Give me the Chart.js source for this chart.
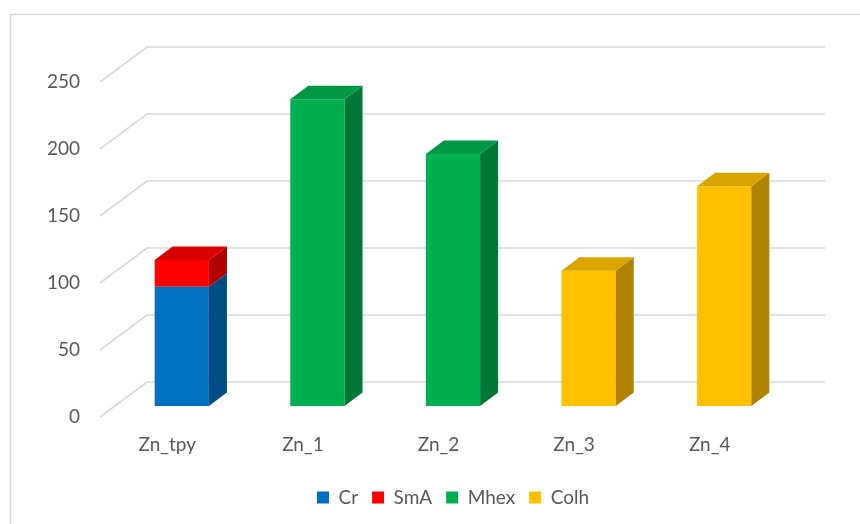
<!DOCTYPE html>
<html>
<head>
<meta charset="utf-8">
<script src="https://cdn.jsdelivr.net/npm/chart.js"></script>
<style>
  html, body { margin: 0; padding: 0; background: #fff; }
  #wrap { width: 860px; height: 524px; }
</style>
</head>
<body>
<div id="wrap"><canvas id="myChart" width="860" height="524"></canvas></div>
<script>
    // 데이터
    const categories = ['Zn_tpy', 'Zn_1', 'Zn_2', 'Zn_3', 'Zn_4'];
    const seriesNames = ['Cr', 'SmA', 'Mhex', 'Colh'];
    const crValues   = [89, null, null, null, null];
    const smaValues  = [20, null, null, null, null];
    const mhexValues = [null, 229, 188, null, null];
    const colhValues = [null, null, null, 101, 164];
    const yTicks = [0, 50, 100, 150, 200, 250];

    const colors = ['#0070C0', '#FF0000', '#00B050', '#FFC000'];

    // 색을 어둡게
    function shade(hex, f) {
        const n = parseInt(hex.slice(1), 16);
        const r = Math.round(((n >> 16) & 255) * f);
        const g = Math.round(((n >> 8) & 255) * f);
        const b = Math.round((n & 255) * f);
        return 'rgb(' + r + ',' + g + ',' + b + ')';
    }

    const DX = 18, DY = -13.5;      // 막대 깊이
    const GX = 47, GY = -35;        // 바닥/벽 깊이
    const GF = 11;                  // 앞면과 앞 모서리 차이

    const threeD = {
        id: 'threeD',
        beforeDraw(chart) {
            const ctx = chart.ctx;
            ctx.save();
            ctx.strokeStyle = '#d9d9d9';
            ctx.lineWidth = 1.5;
            ctx.strokeRect(10.5, 14.5, 1000, 1000);
            ctx.restore();
        },
        beforeDatasetsDraw(chart) {
            const ctx = chart.ctx;
            const area = chart.chartArea;
            const y = chart.scales.y;
            ctx.save();
            ctx.strokeStyle = '#d9d9d9';
            ctx.lineWidth = 1.6;
            yTicks.forEach(function (v) {
                const py = y.getPixelForValue(v);
                const fx = area.left - 14, fy = py + GF;
                ctx.beginPath();
                ctx.moveTo(fx, fy);
                ctx.lineTo(fx + GX, fy + GY);
                ctx.lineTo(area.right + 33, fy + GY);
                ctx.stroke();
            });
            ctx.restore();
        },
        afterDatasetsDraw(chart) {
            const ctx = chart.ctx;
            const n = chart.data.labels.length;
            for (let i = 0; i < n; i++) {
                // 가장 위 세그먼트 찾기
                let topIdx = -1;
                chart.data.datasets.forEach(function (ds, d) {
                    if (ds.data[i] != null && chart.isDatasetVisible(d)) topIdx = d;
                });
                chart.data.datasets.forEach(function (ds, d) {
                    if (ds.data[i] == null || !chart.isDatasetVisible(d)) return;
                    const bar = chart.getDatasetMeta(d).data[i];
                    const p = bar.getProps(['x', 'y', 'base', 'width'], true);
                    const l = p.x - p.width / 2, r = p.x + p.width / 2;
                    const top = Math.min(p.y, p.base), bot = Math.max(p.y, p.base);
                    const c = colors[d];
                    // 옆면
                    ctx.fillStyle = shade(c, 0.69);
                    ctx.beginPath();
                    ctx.moveTo(r, top);
                    ctx.lineTo(r + DX, top + DY);
                    ctx.lineTo(r + DX, bot + DY);
                    ctx.lineTo(r, bot);
                    ctx.closePath();
                    ctx.fill();
                    // 윗면
                    if (d === topIdx) {
                        ctx.fillStyle = shade(c, 0.86);
                        ctx.beginPath();
                        ctx.moveTo(l, top);
                        ctx.lineTo(l + DX, top + DY);
                        ctx.lineTo(r + DX, top + DY);
                        ctx.lineTo(r, top);
                        ctx.closePath();
                        ctx.fill();
                    }
                });
            }
        }
    };

    const values = [crValues, smaValues, mhexValues, colhValues];
    const datasets = seriesNames.map(function (name, i) {
        return {
            label: name,
            data: values[i],
            backgroundColor: colors[i],
            borderWidth: 0
        };
    });

    const font = { family: 'Lato, "Open Sans", sans-serif', size: 19 };

    new Chart(document.getElementById('myChart'), {
        type: 'bar',
        data: { labels: categories, datasets: datasets },
        plugins: [threeD],
        options: {
            responsive: false,
            animation: false,
            layout: { padding: { left: 10, right: 68, top: 71, bottom: 7 } },
            datasets: { bar: { categoryPercentage: 0.4, barPercentage: 1 } },
            scales: {
                x: {
                    stacked: true,
                    grid: { display: false, drawTicks: false },
                    border: { display: false },
                    ticks: { color: '#595959', font: font, padding: 27, labelOffset: -14.5 },
                    afterFit: function (s) { s.height = 68; }
                },
                y: {
                    stacked: true,
                    min: 0,
                    max: 250,
                    grid: { display: false, drawTicks: false },
                    border: { display: false },
                    ticks: { stepSize: 50, color: '#595959', font: font, padding: 34, labelOffset: 11 },
                    afterFit: function (s) { s.width = 104; }
                }
            },
            plugins: {
                legend: {
                    position: 'bottom',
                    fullSize: false,
                    labels: { color: '#595959', font: font, boxWidth: 12, boxHeight: 12, padding: 14 }
                },
                tooltip: { enabled: false }
            }
        }
    });
</script>
</body>
</html>
